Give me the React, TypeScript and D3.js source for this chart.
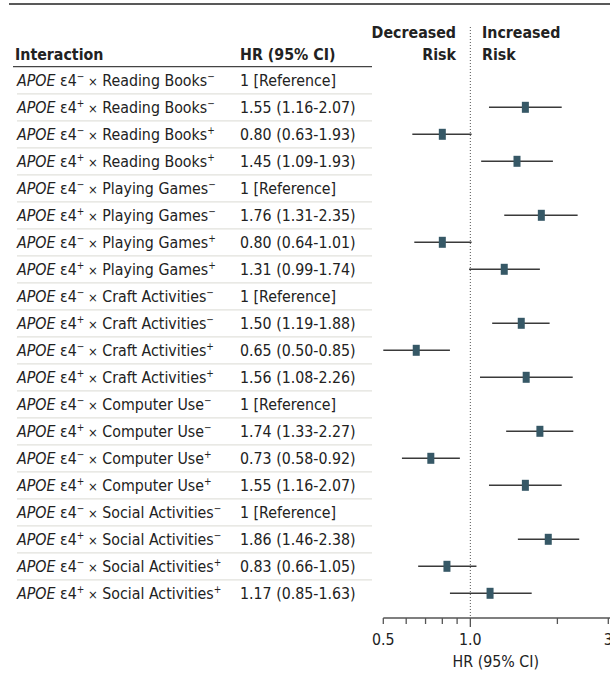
import React from "react";
import { scaleLog, scaleLinear } from "d3";

// rows: activity, APOE e4 status, activity status
const activities = ["Reading Books", "Playing Games", "Craft Activities", "Computer Use", "Social Activities"];
const apoeSign = ["−", "+", "−", "+"];
const actSign = ["−", "−", "+", "+"];

const hr = [1, 1.55, 0.80, 1.45, 1, 1.76, 0.80, 1.31, 1, 1.50, 0.65, 1.56, 1, 1.74, 0.73, 1.55, 1, 1.86, 0.83, 1.17];
const lower = [null, 1.16, 0.63, 1.09, null, 1.31, 0.64, 0.99, null, 1.19, 0.50, 1.08, null, 1.33, 0.58, 1.16, null, 1.46, 0.66, 0.85];
// row 3 is drawn up to ~1.01 in the figure even though its label says 1.93
const upper = [null, 2.07, 1.01, 1.93, null, 2.35, 1.01, 1.74, null, 1.88, 0.85, 2.26, null, 2.27, 0.92, 2.07, null, 2.38, 1.05, 1.63];
const hrLabels = [
  "1 [Reference]", "1.55 (1.16-2.07)", "0.80 (0.63-1.93)", "1.45 (1.09-1.93)",
  "1 [Reference]", "1.76 (1.31-2.35)", "0.80 (0.64-1.01)", "1.31 (0.99-1.74)",
  "1 [Reference]", "1.50 (1.19-1.88)", "0.65 (0.50-0.85)", "1.56 (1.08-2.26)",
  "1 [Reference]", "1.74 (1.33-2.27)", "0.73 (0.58-0.92)", "1.55 (1.16-2.07)",
  "1 [Reference]", "1.86 (1.46-2.38)", "0.83 (0.66-1.05)", "1.17 (0.85-1.63)",
];
const tickValues = [0.5, 0.6, 0.7, 0.8, 0.9, 1, 2, 3];
const tickLabels: Record<string, string> = { "0.5": "0.5", "1": "1.0", "3": "3" };

const FONT = "'Liberation Sans Narrow', 'DejaVu Sans Condensed', 'Noto Sans', sans-serif";
const MARKER = "#365866";

export default function App() {
  const width = 610;
  const height = 687;
  const n = hr.length;

  const x = scaleLog().domain([0.5, 3]).range([383.3, 608.3]);
  const y = scaleLinear().domain([0, n - 1]).range([80.3, 80.3 + 27 * (n - 1)]);
  const axisY = 618;

  const rows = hr.map((v, i) => ({
    activity: activities[Math.floor(i / 4)],
    apoe: apoeSign[i % 4],
    act: actSign[i % 4],
    hr: v,
    lo: lower[i],
    hi: upper[i],
    label: hrLabels[i],
  }));

  return (
    <svg
      width={width}
      height={height}
      style={{ position: "absolute", left: 0, top: 0, background: "#fff" }}
      fontFamily={FONT}
      fontSize={15.8}
      fill="#222"
    >
      <line x1={9} x2={610} y1={4} y2={4} stroke="#222" strokeWidth={1.6} />

      {/* headers */}
      <text x={15} y={60} fontWeight={600}>Interaction</text>
      <text x={240} y={60} fontWeight={600}>HR (95% CI)</text>
      <text x={456} y={38} fontWeight={600} textAnchor="end">Decreased</text>
      <text x={456} y={60} fontWeight={600} textAnchor="end">Risk</text>
      <text x={482} y={38} fontWeight={600}>Increased</text>
      <text x={482} y={60} fontWeight={600}>Risk</text>
      <line x1={13} x2={372} y1={66.7} y2={66.7} stroke="#444" strokeWidth={1.2} />

      {/* row separators */}
      {rows.slice(0, n - 1).map((_, i) => (
        <line key={"s" + i} x1={17} x2={372} y1={y(i) + 13.5} y2={y(i) + 13.5} stroke="#e2e2dc" strokeWidth={1.2} />
      ))}

      {/* row labels */}
      {rows.map((r, i) => (
        <g key={"t" + i} transform={`translate(0,${y(i) + 5.5})`}>
          <text x={17}>
            <tspan fontStyle="italic">APOE</tspan>
            <tspan> ε4</tspan>
            <tspan fontSize={10} dy={-6}>{r.apoe}</tspan>
            <tspan dy={6} fontSize={13}> ×</tspan>
            <tspan>{" " + r.activity}</tspan>
            <tspan fontSize={10} dy={-6}>{r.act}</tspan>
          </text>
          <text x={240}>{r.label}</text>
        </g>
      ))}

      {/* reference line */}
      <line x1={x(1)} x2={x(1)} y1={27} y2={axisY} stroke="#555" strokeWidth={1} strokeDasharray="1,2" />

      {/* estimates */}
      {rows.map((r, i) =>
        r.lo == null ? null : (
          <g key={"m" + i}>
            <line x1={x(r.lo)} x2={x(r.hi as number)} y1={y(i)} y2={y(i)} stroke="#3a3a3a" strokeWidth={1.4} />
            <rect x={x(r.hr) - 3.5} y={y(i) - 5.5} width={7} height={11} fill={MARKER} />
          </g>
        )
      )}

      {/* axis */}
      <line x1={x(0.5)} x2={610} y1={axisY} y2={axisY} stroke="#555" strokeWidth={1.5} />
      {tickValues.map((t) => (
        <g key={"k" + t}>
          <line x1={x(t)} x2={x(t)} y1={axisY} y2={axisY + (t === 1 ? 9 : 6)} stroke="#555" strokeWidth={1.3} />
          {tickLabels[String(t)] && (
            <text x={x(t)} y={axisY + 27} textAnchor="middle">{tickLabels[String(t)]}</text>
          )}
        </g>
      ))}
      <text x={(x(0.5) + x(3)) / 2} y={axisY + 49} textAnchor="middle">HR (95% CI)</text>
    </svg>
  );
}
